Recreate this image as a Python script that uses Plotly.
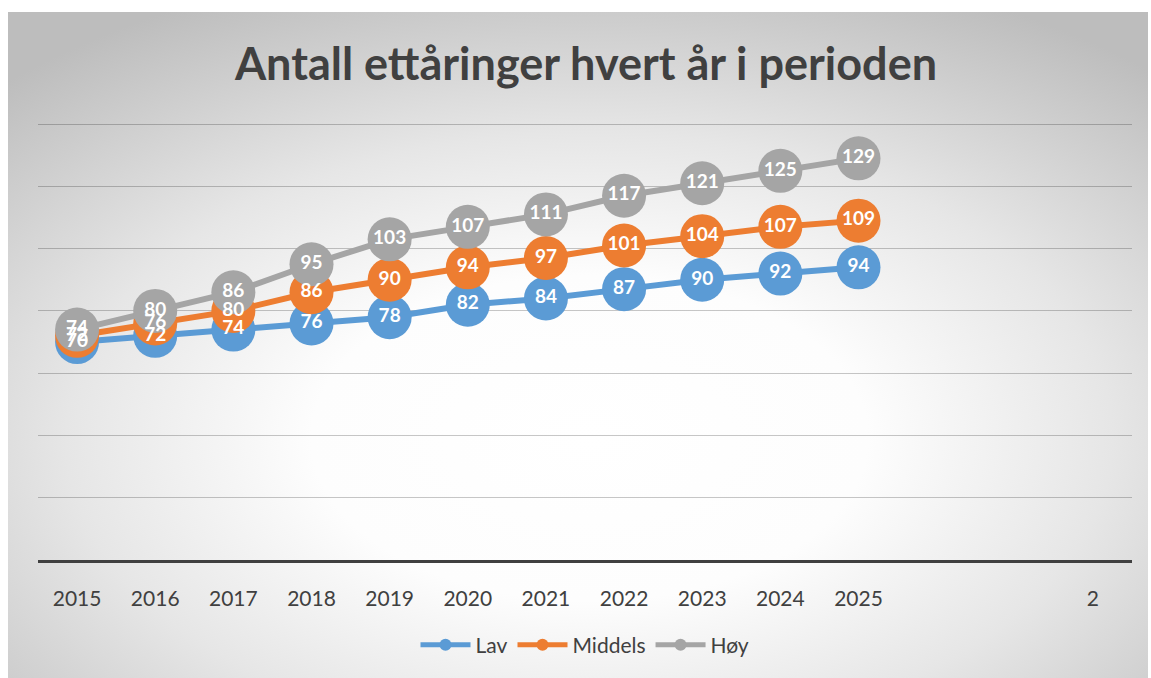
import base64
import plotly.graph_objects as go

years = ["2015", "2016", "2017", "2018", "2019", "2020", "2021", "2022", "2023", "2024", "2025"]
extra_ticks = ["", "", "2"]
lav = [70, 72, 74, 76, 78, 82, 84, 87, 90, 92, 94]
middels = [72, 76, 80, 86, 90, 94, 97, 101, 104, 107, 109]
hoy = [74, 80, 86, 95, 103, 107, 111, 117, 121, 125, 129]

series = [("Lav", lav, "#5B9BD5"), ("Middels", middels, "#ED7D31"), ("Høy", hoy, "#A5A5A5")]

W, H = 1151, 678
YMAX = 141
L, R, B = 38, 19, 118
ph = (560 - 124) * YMAX / 140
T = int(round(H - B - ph))
ph = H - B - T
pw = W - L - R

fig = go.Figure()
xi = list(range(len(years)))
for name, vals, col in series:
    fig.add_trace(go.Scatter(
        x=xi, y=vals, name=name, mode="lines+markers",
        line=dict(color=col, width=6),
        marker=dict(color=col, size=44, line=dict(width=0)),
        cliponaxis=False,
    ))
# data labels drawn above every series' markers (as in the original)
for name, vals, col in series:
    fig.add_trace(go.Scatter(
        x=xi, y=vals, name=name, mode="text", showlegend=False,
        text=[str(v) for v in vals], textposition="middle center",
        textfont=dict(family="Lato", size=19, color="white", weight="bold"),
        cliponaxis=False, hoverinfo="skip",
    ))

svg = ('<svg xmlns="http://www.w3.org/2000/svg" width="1140" height="666" viewBox="0 0 1140 666" '
       'preserveAspectRatio="none"><defs><radialGradient id="g" cx="51%" cy="64%" r="74%">'
       '<stop offset="0" stop-color="#ffffff"/><stop offset="0.33" stop-color="#fdfdfd"/>'
       '<stop offset="0.62" stop-color="#e6e6e6"/>'
       '<stop offset="1" stop-color="#bdbdbd"/></radialGradient></defs>'
       '<rect width="1140" height="666" fill="url(#g)"/></svg>')
src = "data:image/svg+xml;base64," + base64.b64encode(svg.encode()).decode()


def px_x(p):
    return (p - L) / pw


def px_y(p):
    return (H - B - p) / ph


fig.add_layout_image(dict(
    source=src, xref="paper", yref="paper",
    x=px_x(8), y=px_y(12), sizex=1140 / pw, sizey=666 / ph,
    xanchor="left", yanchor="top", sizing="stretch", layer="below",
))

ticks = list(range(len(years) + len(extra_ticks)))
fig.update_layout(
    width=W, height=H,
    margin=dict(l=L, r=R, t=T, b=B),
    paper_bgcolor="white", plot_bgcolor="rgba(0,0,0,0)",
    title=dict(text="<b>Antall ettåringer hvert år i perioden</b>",
               x=586 / W, xanchor="center", y=1 - 64 / H, yanchor="middle",
               font=dict(family="Lato", size=45, color="#404040")),
    xaxis=dict(range=[-0.5, len(ticks) - 0.5], tickvals=ticks, ticktext=years + extra_ticks,
               showgrid=False, zeroline=False, showline=True, linecolor="#404040", linewidth=3,
               ticks="", ticklabelstandoff=18,
               tickfont=dict(family="Lato", size=21, color="#404040")),
    yaxis=dict(range=[0, YMAX], tickvals=[20, 40, 60, 80, 100, 120, 140], showticklabels=False,
               showgrid=True, gridcolor="rgba(0,0,0,0.22)", gridwidth=1, zeroline=False,
               showline=False),
    legend=dict(orientation="h", x=0.5, xanchor="center", y=px_y(645), yanchor="middle",
                font=dict(family="Lato", size=21, color="#404040"),
                bgcolor="rgba(0,0,0,0)", itemsizing="constant", itemwidth=50),
    showlegend=True,
)

fig.write_html("out.html", config={"displayModeBar": False},
               post_script="document.body.style.margin='0';")
